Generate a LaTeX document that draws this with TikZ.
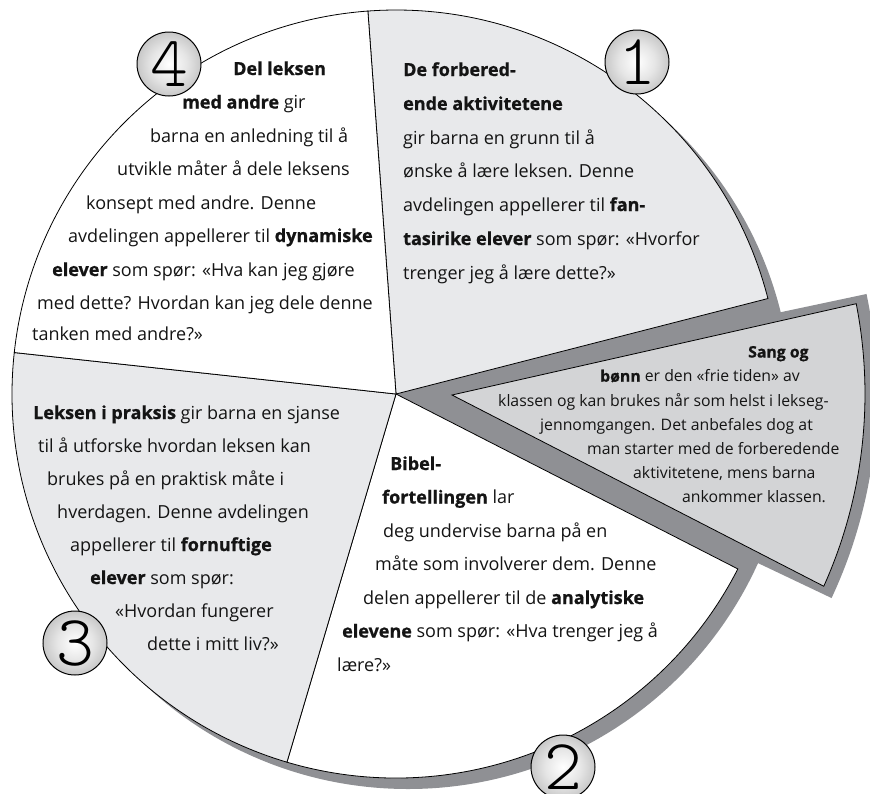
\documentclass[tikz,border=0pt]{standalone}
\usepackage{fontspec}
\setmainfont{Open Sans}[BoldFeatures={FakeBold=0.8}]
\newfontfamily\digitfont{lmmonolt10-regular.otf}
\usetikzlibrary{calc}
\definecolor{segl}{HTML}{E8E9EB}
\definecolor{wedgec}{HTML}{D3D4D6}
\definecolor{bandc}{HTML}{8F9094}
\definecolor{textc}{HTML}{141414}
\pgfdeclareradialshading{badgeshade}{\pgfpoint{0bp}{0bp}}{color(0bp)=(white); color(14bp)=(white!90!black); color(50bp)=(black!48)}
\tikzset{
  segline/.style={draw=black, line width=0.8pt, line join=miter},
  txt/.style={inner sep=0pt, anchor=base west, text=textc, font=\fontsize{18}{20}\selectfont},
  wtxt/.style={inner sep=0pt, anchor=base west, text=textc, font=\fontsize{15.8}{18}\selectfont},
  badge/.style={circle, minimum size=64pt, inner sep=0pt, draw=black, line width=1pt, shade, shading=badgeshade, text=black, font=\digitfont\fontsize{72}{72}\selectfont}
}
\begin{document}
\begin{tikzpicture}[x=1pt,y=-1pt]
\useasboundingbox (0,0) rectangle (870,793);
\clip (0,0) rectangle (870,793);
\coordinate (C) at (396,394);
% shadow and band
\fill[bandc] (408,405) circle[radius=384];
\fill[bandc] (C) -- ++(-14.4:384) arc[start angle=-14.4,end angle=27.1,radius=384] -- cycle;
\coordinate (F0) at (400,393);
\fill[bandc] (F0) -- ($(C)+(-12:481)$) arc[start angle=-12,end angle=25.1,radius=481] -- cycle;
% segments
\filldraw[segline, fill=segl] (C) -- ++(-94.2:384) arc[start angle=-94.2,end angle=-14.4,radius=384] -- cycle;
\filldraw[segline, fill=white] (C) -- ++(27.1:384) arc[start angle=27.1,end angle=106.5,radius=384] -- cycle;
\filldraw[segline, fill=segl] (C) -- ++(106.5:384) arc[start angle=106.5,end angle=186.2,radius=384] -- cycle;
\filldraw[segline, fill=white] (C) -- ++(186.2:384) arc[start angle=186.2,end angle=265.8,radius=384] -- cycle;
% wedge
\coordinate (WA) at (452,395);
\filldraw[segline, fill=wedgec] (WA) -- ($(C)+(-11.1:469)$) arc[start angle=-11.1,end angle=24.2,radius=469] -- cycle;
% badges
\node[badge] (b4) at (169,64) {4};
\node[badge] (b1) at (637,62) {1};
\node[badge] (b3) at (75,643) {3};
\node[badge] (b2) at (563,767) {2};
% segment 4
\node[txt] (s4a) at (233,75) {\textbf{Del leksen}};
\node[txt] (s4b) at (182,108.5) {\textbf{med andre} gir};
\node[txt] (s4c) at (150,142) {barna en anledning til å};
\node[txt] (s4d) at (117,175) {utvikle måter å dele leksens};
\node[txt] (s4e) at (86,209) {konsept med andre. Denne};
\node[txt] (s4f) at (68,242) {avdelingen appellerer til \textbf{dynamiske}};
\node[txt] (s4g) at (52,276) {\textbf{elever} som spør: «Hva kan jeg gjøre};
\node[txt] (s4h) at (37,309) {med dette? Hvordan kan jeg dele denne};
\node[txt] (s4i) at (32,340) {tanken med andre?»};
% segment 1
\node[txt] (s1a) at (403,76) {\textbf{De forbered-}};
\node[txt] (s1b) at (403,110) {\textbf{ende aktivitetene}};
\node[txt] (s1c) at (403,144) {gir barna en grunn til å};
\node[txt] (s1d) at (403,177) {ønske å lære leksen. Denne};
\node[txt] (s1e) at (403,211) {avdelingen appellerer til \textbf{fan-}};
\node[txt] (s1f) at (403,245) {\textbf{tasirike elever} som spør: «Hvorfor};
\node[txt] (s1g) at (403,279) {trenger jeg å lære dette?»};
% segment 3
\node[txt] (s3a) at (33,419) {\textbf{Leksen i praksis} gir barna en sjanse};
\node[txt] (s3b) at (38,452) {til å utforske hvordan leksen kan};
\node[txt] (s3c) at (47,485) {brukes på en praktisk måte i};
\node[txt] (s3d) at (57,518) {hverdagen. Denne avdelingen};
\node[txt] (s3e) at (70,551) {appellerer til \textbf{fornuftige}};
\node[txt] (s3f) at (90,584) {\textbf{elever} som spør:};
\node[txt] (s3g) at (115,617) {«Hvordan fungerer};
\node[txt] (s3h) at (147,650) {dette i mitt liv?»};
% segment 2
\node[txt] (s2a) at (390,470) {\textbf{Bibel-}};
\node[txt] (s2b) at (382,503.5) {\textbf{fortellingen} lar};
\node[txt] (s2c) at (383,537) {deg undervise barna på en};
\node[txt] (s2d) at (375,570.5) {måte som involverer dem. Denne};
\node[txt] (s2e) at (363,604) {delen appellerer til de \textbf{analytiske}};
\node[txt] (s2f) at (342,637.5) {\textbf{elevene} som spør: «Hva trenger jeg å};
\node[txt] (s2g) at (337,671) {lære?»};
% wedge text
\node[wtxt] (w1) at (748,357.5) {\textbf{Sang og}};
\node[wtxt] (w2) at (600,381.7) {\textbf{bønn} er den «frie tiden» av};
\node[wtxt] (w3) at (498,406) {klassen og kan brukes når som helst i lekseg-};
\node[wtxt] (w4) at (540,430) {jennomgangen. Det anbefales dog at};
\node[wtxt] (w5) at (587,454) {man starter med de forberedende};
\node[wtxt] (w6) at (633,478) {aktivitetene, mens barna};
\node[wtxt] (w7) at (682,502) {ankommer klassen.};
\end{tikzpicture}
\end{document}
